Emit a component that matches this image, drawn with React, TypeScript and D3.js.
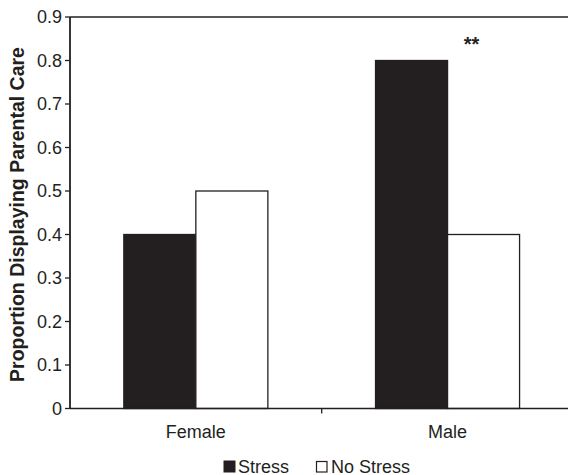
import React from "react";
import * as d3 from "d3";

const categories = ["Female", "Male"];
const seriesNames = ["Stress", "No Stress"];
const stressValues = [0.4, 0.8];
const noStressValues = [0.5, 0.4];
const yTicks = [0, 0.1, 0.2, 0.3, 0.4, 0.5, 0.6, 0.7, 0.8, 0.9];
const yTickLabels = ["0", "0.1", "0.2", "0.3", "0.4", "0.5", "0.6", "0.7", "0.8", "0.9"];
const annotations = ["", "**"];

const W = 568;
const H = 475;
const left = 70;
const top = 17;
const bottom = 408.5;
const right = 573.4;
const ink = "#231f20";
const font = "Arial, 'Liberation Sans', Helvetica, sans-serif";

export default function App() {
  const x = d3.scaleBand<string>().domain(categories).range([left, right]).paddingInner(0).paddingOuter(0);
  const x1 = d3.scaleBand<string>().domain(seriesNames).range([0, x.bandwidth()]).paddingOuter(0.7475).paddingInner(0);
  const y = d3.scaleLinear().domain([0, 0.9]).range([bottom, top]);

  const series = [
    { name: "Stress", values: stressValues, fill: ink },
    { name: "No Stress", values: noStressValues, fill: "#ffffff" },
  ];

  return (
    <svg width={W} height={H} style={{ position: "absolute", left: 0, top: 0, background: "#fff" }} fontFamily={font}>
      {/* bars */}
      {series.map((s) =>
        categories.map((c, i) => (
          <rect
            key={s.name + c}
            x={(x(c) as number) + (x1(s.name) as number)}
            y={y(s.values[i])}
            width={x1.bandwidth()}
            height={y(0) - y(s.values[i])}
            fill={s.fill}
            stroke={ink}
            strokeWidth={1.3}
          />
        ))
      )}
      {/* top frame line */}
      <line x1={left} x2={right} y1={top} y2={top} stroke={ink} strokeWidth={1.5} />
      {/* y axis */}
      <line x1={left} x2={left} y1={top} y2={bottom} stroke={ink} strokeWidth={1.8} />
      {yTicks.map((t, i) => (
        <g key={t}>
          <line x1={left - 5} x2={left} y1={y(t)} y2={y(t)} stroke={ink} strokeWidth={1.3} />
          <text x={left - 8} y={y(t)} dy="0.36em" textAnchor="end" fontSize={18} fill={ink}>
            {yTickLabels[i]}
          </text>
        </g>
      ))}
      {/* x axis */}
      <line x1={left} x2={right} y1={bottom} y2={bottom} stroke={ink} strokeWidth={1.5} />
      {categories.slice(1).map((c) => (
        <line key={c} x1={x(c) as number} x2={x(c) as number} y1={bottom} y2={bottom + 5} stroke={ink} strokeWidth={1.3} />
      ))}
      {categories.map((c) => (
        <text key={c} x={(x(c) as number) + x.bandwidth() / 2} y={438} textAnchor="middle" fontSize={18} fill={ink}>
          {c}
        </text>
      ))}
      {/* annotations */}
      {categories.map((c, i) =>
        annotations[i] ? (
          <text
            key={"a" + c}
            x={(x(c) as number) + (x1("No Stress") as number) + x1.bandwidth() / 2 - 12}
            y={51}
            textAnchor="middle"
            fontSize={20}
            fontWeight="bold"
            fill={ink}
          >
            {annotations[i]}
          </text>
        ) : null
      )}
      {/* y label */}
      <text
        transform={`translate(24, 214.5) rotate(-90)`}
        textAnchor="middle"
        fontSize={19.5}
        fontWeight="bold"
        fill={ink}
      >
        Proportion Displaying Parental Care
      </text>
      {/* legend */}
      <rect x={224} y={461} width={11} height={11} fill={ink} stroke={ink} strokeWidth={1} />
      <text x={238} y={472.5} fontSize={18} fill={ink}>Stress</text>
      <rect x={316.5} y={461.5} width={10.5} height={10.5} fill="#fff" stroke={ink} strokeWidth={1.2} />
      <text x={331} y={472.5} fontSize={18} fill={ink}>No Stress</text>
    </svg>
  );
}
